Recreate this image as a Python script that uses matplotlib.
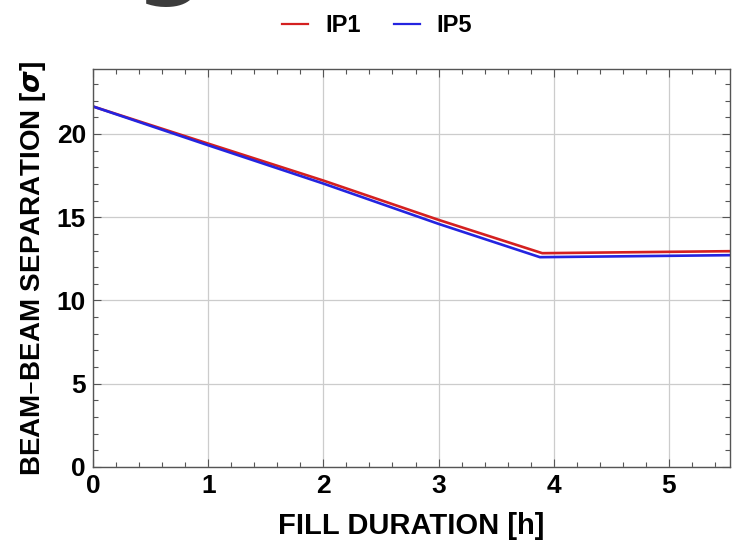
import matplotlib
matplotlib.use('Agg')
import matplotlib.pyplot as plt
from matplotlib.ticker import MultipleLocator

# ---- Data: beam-beam separation vs fill time ----
hours_ip1 = [0.0, 1.0, 2.0, 3.0, 3.9, 5.53]
sep_ip1 = [21.65, 19.42, 17.20, 14.84, 12.84, 12.96]

hours_ip5 = [0.0, 1.0, 2.0, 3.0, 3.88, 5.53]
sep_ip5 = [21.65, 19.32, 17.02, 14.60, 12.60, 12.72]

series_names = ['IP1', 'IP5']
series_colors = ['#d42020', '#2424e0']

X_MAX = 5.53
Y_MAX = 23.9

plt.rcParams['font.family'] = ['Liberation Sans', 'DejaVu Sans']
plt.rcParams['font.weight'] = 'bold'

fig = plt.figure(figsize=(7.39, 5.44), dpi=100)
ax = fig.add_axes([93 / 739, 1 - 467 / 544, 637 / 739, 398 / 544])

for xs, ys, name, col in zip([hours_ip1, hours_ip5], [sep_ip1, sep_ip5],
                             series_names, series_colors):
    ax.plot(xs, ys, color=col, lw=1.9, label=name, solid_joinstyle='round')

ax.set_xlim(0, X_MAX)
ax.set_ylim(0, Y_MAX)
ax.xaxis.set_major_locator(MultipleLocator(1))
ax.xaxis.set_minor_locator(MultipleLocator(0.2))
ax.yaxis.set_major_locator(MultipleLocator(5))
ax.yaxis.set_minor_locator(MultipleLocator(1))
ax.grid(True, which='major', color='#cccccc', lw=0.9)
ax.set_axisbelow(True)

for sp in ax.spines.values():
    sp.set_color('#555555')
    sp.set_linewidth(1.0)
ax.tick_params(which='both', direction='in', top=True, right=True,
               colors='#555555', labelcolor='black', width=0.8)
ax.tick_params(which='major', length=6, labelsize=19, pad=5)
ax.tick_params(which='minor', length=3.5)
for lab in ax.get_xticklabels() + ax.get_yticklabels():
    lab.set_fontweight('bold')

ax.set_xlabel('FILL DURATION [h]', fontsize=21, fontweight='bold', labelpad=10)
ax.set_ylabel('BEAM\u2013BEAM SEPARATION [$\\sigma$]', fontsize=20,
              fontweight='bold', labelpad=6)

leg = fig.legend(loc='center', bbox_to_anchor=(377 / 739, 1 - 26 / 544), ncol=2,
                 frameon=False, fontsize=17, handlelength=1.1,
                 handletextpad=0.7, columnspacing=1.4)
for line in leg.get_lines():
    line.set_linewidth(1.6)
for t in leg.get_texts():
    t.set_fontweight('bold')

# Large heading glyph cut off at the top edge
fig.text(170 / 739, 1 + 15 / 544, 'g', fontsize=72, color='#3c3c3c',
         ha='center', va='baseline', family='DejaVu Sans')

fig.savefig('out.png', dpi=100, facecolor='white')
